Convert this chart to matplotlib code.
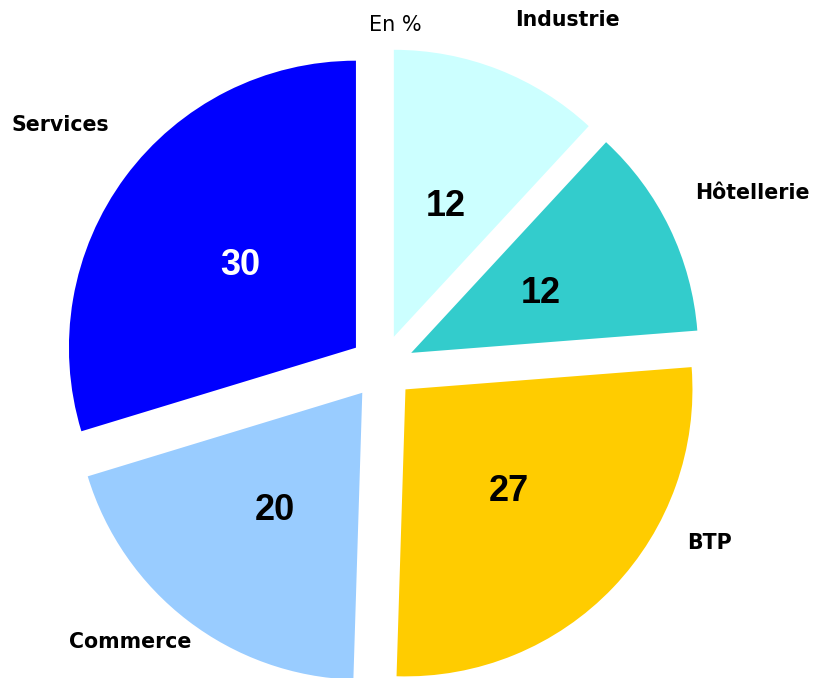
import matplotlib
matplotlib.use("Agg")
import matplotlib.pyplot as plt

# data, clockwise from the top
sectors = ["Industrie", "Hôtellerie", "BTP", "Commerce", "Services"]
values = [12, 12, 27, 20, 30]
colors = ["#CCFFFF", "#33CCCC", "#FFCC00", "#99CCFF", "#0000FF"]
value_colors = ["black", "black", "black", "black", "white"]
# where the sector names sit (figure fraction)
label_pos = [(0.698, 0.970), (0.925, 0.715), (0.873, 0.199), (0.160, 0.053), (0.074, 0.816)]

W, H = 813, 678
cx, cy, R = 382, 367, 287   # pie centre and radius in pixels

fig = plt.figure(figsize=(W / 100, H / 100), dpi=100)
ax = fig.add_axes([0, 0, 1, 1])

total = sum(values)
wedges, texts, autotexts = ax.pie(
    values, colors=colors, startangle=90, counterclock=False,
    explode=[0.113] * len(values), radius=1,
    autopct=lambda p: "%d" % round(p * total / 100.0), pctdistance=0.5,
    wedgeprops=dict(linewidth=0),
    textprops=dict(fontsize=26, fontweight="bold", family="Liberation Sans"))

for t, c in zip(autotexts, value_colors):
    t.set_color(c)
    x, y = t.get_position()
    t.set_position((x, y - 0.012))

ax.set_aspect("auto")
ax.set_xlim(-cx / R, (W - cx) / R)
ax.set_ylim(-(H - cy) / R, cy / R)
ax.axis("off")

for name, (x, y) in zip(sectors, label_pos):
    fig.text(x, y, name, ha="center", va="center", fontsize=14.8,
             fontweight="bold", family="DejaVu Sans")

fig.text(0.486, 0.963, "En %", ha="center", va="center", fontsize=15,
         family="DejaVu Sans")

fig.savefig("out.png", dpi=100, facecolor="white")
